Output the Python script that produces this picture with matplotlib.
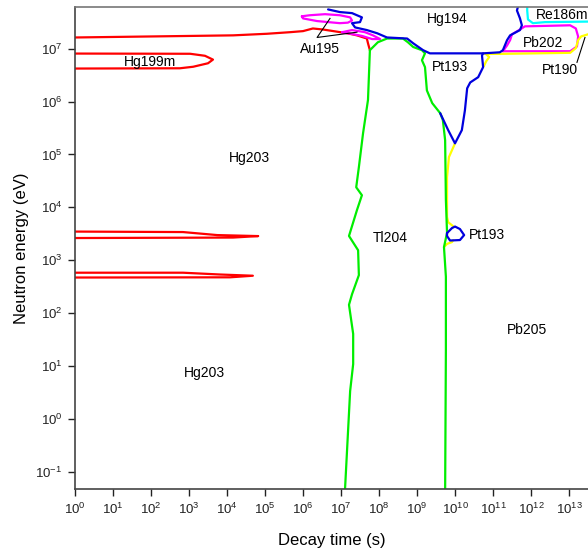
import numpy as np
import matplotlib
matplotlib.use("Agg")
import matplotlib.pyplot as plt

plt.rcParams['font.family'] = ['Liberation Sans', 'DejaVu Sans']
plt.rcParams['mathtext.default'] = 'regular'
plt.rcParams['axes.unicode_minus'] = False

# boundary curves, given as log10(decay time), log10(neutron energy)
red_top_x = [0, 4.16, 5.05, 5.66, 6.0, 6.26, 6.53, 7.16, 7.42, 7.68, 7.71, 7.76]
red_top_y = [7.21, 7.25, 7.28, 7.31, 7.33, 7.38, 7.36, 7.29, 7.25, 7.19, 7.10, 6.97]

hg199m_x = [0, 3.03, 3.42, 3.63, 3.50, 3.11, 2.76, 0]
hg199m_y = [6.906, 6.902, 6.864, 6.792, 6.723, 6.657, 6.628, 6.623]

lobe1_x = [0, 2.84, 3.74, 4.82, 4.16, 0]
lobe1_y = [3.543, 3.534, 3.477, 3.458, 3.430, 3.421]

lobe2_x = [0, 2.84, 3.82, 4.68, 4.08, 0]
lobe2_y = [2.766, 2.766, 2.732, 2.709, 2.679, 2.675]

tl_left_x = [7.10, 7.24, 7.32, 7.32, 7.21, 7.29, 7.47, 7.45, 7.21, 7.42, 7.55,
             7.40, 7.47, 7.58, 7.71, 7.74, 7.76]
tl_left_y = [-1.4, 0.53, 1.04, 1.61, 2.16, 2.36, 2.72, 3.19, 3.46, 3.95, 4.23,
             4.38, 4.76, 5.40, 6.03, 6.59, 6.97]

tl_right_x = [7.76, 7.97, 8.21, 8.63, 8.76, 8.90, 9.13, 9.21, 9.13, 9.21, 9.26,
              9.40, 9.61, 9.68, 9.74, 9.76, 9.79, 9.71, 9.76, 9.76, 9.74]
tl_right_y = [6.97, 7.12, 7.19, 7.19, 7.12, 7.03, 6.97, 6.91, 6.78, 6.65, 6.21,
              5.97, 5.78, 5.65, 5.27, 4.14, 3.52, 3.25, 2.69, 1.31, -1.4]

blue_top_x = [6.66, 6.97, 7.29, 7.55, 7.50, 7.29, 7.37, 7.68, 7.95, 8.21, 8.74,
              8.90, 9.16, 9.34, 10.74, 11.18, 11.26, 11.37, 11.45, 11.71, 11.76,
              11.71, 11.63, 11.66]
blue_top_y = [7.74, 7.69, 7.67, 7.59, 7.50, 7.48, 7.40, 7.35, 7.29, 7.21, 7.19,
              7.10, 6.97, 6.91, 6.91, 6.93, 6.97, 7.16, 7.25, 7.35, 7.44,
              7.57, 7.72, 7.80]

blue_v_x = [10.74, 10.71, 10.74, 10.61, 10.40, 10.32, 10.26, 10.18, 10.0, 9.82, 9.61]
blue_v_y = [6.91, 6.87, 6.65, 6.46, 6.36, 6.25, 5.83, 5.46, 5.21, 5.46, 5.78]

pt193_loop_x = [9.79, 9.92, 10.0, 10.13, 10.24, 10.13, 9.87, 9.79, 9.79]
pt193_loop_y = [3.515, 3.609, 3.638, 3.591, 3.477, 3.383, 3.374, 3.459, 3.515]

yel_low_x = [10.0, 9.92, 9.84, 9.79, 9.79, 9.82, 9.95]
yel_low_y = [5.21, 5.08, 4.95, 4.57, 3.82, 3.72, 3.645]
yel_low2_x = [9.95, 9.92, 9.79, 9.71]
yel_low2_y = [3.38, 3.345, 3.31, 3.25]

yel_wig_x = [10.79, 10.90, 10.82, 10.76]
yel_wig_y = [6.91, 6.84, 6.76, 6.67]

yel_right_x = [10.79, 11.18, 13.03, 13.18, 13.24, 13.32, 13.5]
yel_right_y = [6.90, 6.90, 6.92, 7.01, 7.16, 7.23, 7.27]

pb202_x = [11.26, 11.37, 11.45, 11.50, 11.71, 11.84, 13.03, 13.18, 13.24, 13.21, 13.03, 11.26]
pb202_y = [6.95, 7.06, 7.16, 7.27, 7.36, 7.42, 7.44, 7.38, 7.23, 7.04, 6.95, 6.95]

re186m_x = [11.90, 11.90, 11.92, 12.05, 12.37, 13.5]
re186m_y = [7.80, 7.72, 7.55, 7.48, 7.50, 7.51]

au_up_x = [5.97, 6.18, 6.58, 6.97, 7.24, 7.29, 7.18, 6.97, 6.37, 6.0, 5.97]
au_up_y = [7.61, 7.63, 7.65, 7.63, 7.59, 7.53, 7.49, 7.48, 7.52, 7.57, 7.61]

au_low_x = [7.03, 7.29, 7.63, 7.84, 8.03, 7.82, 7.55, 7.18, 7.03]
au_low_y = [7.31, 7.35, 7.31, 7.25, 7.18, 7.18, 7.24, 7.29, 7.31]

labels = ['Hg199m', 'Hg203', 'Hg203', 'Tl204', 'Pt193', 'Hg194', 'Au195',
          'Re186m', 'Pb202', 'Pt190', 'Pb205']
label_x = [1.97, 4.58, 3.40, 8.29, 9.87, 9.79, 6.45, 12.82, 12.32, 12.76, 11.90]
label_y = [6.74, 4.93, 0.88, 3.42, 6.65, 7.56, 6.99, 7.63, 7.10, 6.59, 1.69]

fig = plt.figure(figsize=(5.88, 5.49), dpi=100)
ax = fig.add_axes([0.1276, 0.1093, 0.8724, 0.8774])
ax.set_xscale('log')
ax.set_yscale('log')


def curve(xs, ys, color, lw=1.6):
    ax.plot(10 ** np.array(xs), 10 ** np.array(ys), color=color, lw=lw,
            solid_joinstyle='round', solid_capstyle='round')


curve(red_top_x, red_top_y, '#ff0000')
curve(hg199m_x, hg199m_y, '#ff0000')
curve(lobe1_x, lobe1_y, '#ff0000')
curve(lobe2_x, lobe2_y, '#ff0000')
curve(au_up_x, au_up_y, '#ff00ff')
curve(au_low_x, au_low_y, '#ff00ff')
curve(pb202_x, pb202_y, '#ff00ff')
curve(re186m_x, re186m_y, '#00ffff')
curve(yel_low_x, yel_low_y, '#ffff00')
curve(yel_low2_x, yel_low2_y, '#ffff00')
curve(yel_wig_x, yel_wig_y, '#ffff00')
curve(yel_right_x, yel_right_y, '#ffff00')
curve(tl_left_x, tl_left_y, '#00ee00')
curve(tl_right_x, tl_right_y, '#00ee00')
curve(blue_top_x, blue_top_y, '#0000dd')
curve(blue_v_x, blue_v_y, '#0000dd')
curve(pt193_loop_x, pt193_loop_y, '#0000dd')

# pointer lines for the small regions
ax.plot(10 ** np.array([6.71, 6.37, 7.42]), 10 ** np.array([7.57, 7.21, 7.31]),
        color='black', lw=0.8)
ax.plot(10 ** np.array([13.21, 13.42]), 10 ** np.array([6.74, 7.21]),
        color='black', lw=0.8)

for name, lx, ly in zip(labels, label_x, label_y):
    ax.text(10 ** lx, 10 ** ly, name, ha='center', va='center', fontsize=10)
ax.text(10 ** 10.37, 10 ** 3.48, 'Pt193', ha='left', va='center', fontsize=10)

ax.set_xlim(1, 10 ** 13.5)
ax.set_ylim(10 ** -1.32, 10 ** 7.78)
ax.set_xticks([10.0 ** k for k in range(14)])
ax.set_yticks([10.0 ** k for k in range(-1, 8)])
ax.minorticks_off()
ax.tick_params(direction='out', length=5, width=1, labelsize=9.5, pad=4,
               colors='#222222')
for s in ['left', 'bottom']:
    ax.spines[s].set_color('#444444')
    ax.spines[s].set_linewidth(1.2)
ax.spines['top'].set_color('#777777')
ax.spines['top'].set_linewidth(1.2)
ax.spines['right'].set_visible(False)

ax.set_xlabel('Decay time (s)', fontsize=12, labelpad=12)
ax.set_ylabel('Neutron energy (eV)', fontsize=12, labelpad=5)

fig.savefig('out.png', dpi=100)
